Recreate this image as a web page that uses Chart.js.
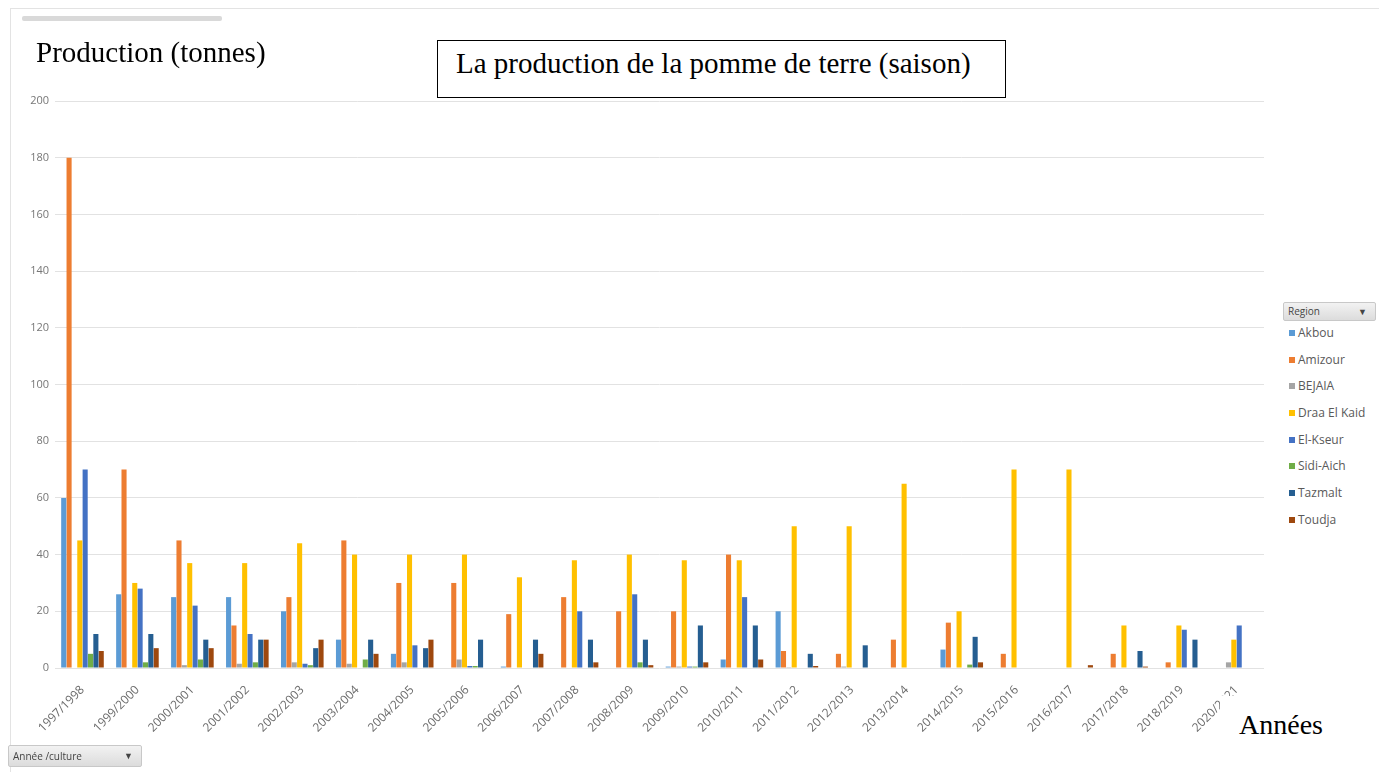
<!DOCTYPE html>
<html lang="fr">
<head>
    <meta charset="UTF-8">
    <title>La production de la pomme de terre (saison)</title>
    <script src="https://cdn.jsdelivr.net/npm/chart.js"></script>
    <style>
        body {
            margin: 0;
            width: 1379px;
            height: 772px;
            background: #fff;
            position: relative;
            overflow: hidden;
            font-family: "Open Sans", Arial, sans-serif;
        }
        .frame {
            position: absolute;
            left: 10px;
            top: 8px;
            width: 1375px;
            height: 770px;
            border: 1px solid #e3e3e3;
        }
        .topbar {
            position: absolute;
            left: 22px;
            top: 16px;
            width: 200px;
            height: 5px;
            background: #d9d9d9;
            border-radius: 2px;
        }
        #chartWrap {
            position: absolute;
            left: 0;
            top: 0;
            width: 1280px;
            height: 772px;
        }
        .serif {
            position: absolute;
            font-family: "Liberation Serif", "Times New Roman", serif;
            color: #000;
            white-space: nowrap;
        }
        #yTitle {
            left: 36px;
            top: 36px;
            font-size: 29px;
        }
        #title {
            left: 437px;
            top: 40px;
            width: 569px;
            height: 58px;
            border: 1px solid #000;
            background: #fff;
            font-size: 29px;
            line-height: 44px;
            padding-left: 18px;
            box-sizing: border-box;
        }
        #xTitle {
            left: 1220px;
            top: 696px;
            padding: 14px 14px 14px 19px;
            background: #fff;
            font-size: 28px;
            line-height: 30px;
        }
        .pivotBtn {
            position: absolute;
            background: linear-gradient(#f2f2f2, #dcdcdc);
            border: 1px solid #c8c8c8;
            border-radius: 2px;
            font-size: 10px;
            color: #444;
            box-sizing: border-box;
            padding-left: 4px;
        }
        .pivotBtn span {
            position: absolute;
            right: 8px;
            font-size: 9px;
        }
        #regionBtn {
            left: 1283px;
            top: 302px;
            width: 93px;
            height: 19px;
            line-height: 17px;
        }
        #anneeBtn {
            left: 8px;
            top: 745px;
            width: 134px;
            height: 22px;
            line-height: 20px;
        }
        #legend {
            position: absolute;
            left: 1289px;
            top: 324px;
        }
        .legItem {
            height: 26.7px;
            line-height: 17px;
            font-size: 12px;
            color: #595959;
            white-space: nowrap;
        }
        .legItem i {
            display: inline-block;
            width: 6px;
            height: 6px;
            margin-right: 3px;
            vertical-align: 1px;
        }
    </style>
</head>
<body>
    <div class="frame"></div>
    <div class="topbar"></div>

    <div id="chartWrap"><canvas id="chart"></canvas></div>

    <div class="serif" id="yTitle">Production (tonnes)</div>
    <div class="serif" id="title">La production de la pomme de terre (saison)</div>
    <div class="serif" id="xTitle">Années</div>

    <div class="pivotBtn" id="regionBtn">Region<span>&#9660;</span></div>
    <div id="legend"></div>
    <div class="pivotBtn" id="anneeBtn">Année /culture<span>&#9660;</span></div>

    <script>
        // Categories (seasons)
        const seasons = ['1997/1998', '1999/2000', '2000/2001', '2001/2002', '2002/2003', '2003/2004',
            '2004/2005', '2005/2006', '2006/2007', '2007/2008', '2008/2009', '2009/2010',
            '2010/2011', '2011/2012', '2012/2013', '2013/2014', '2014/2015', '2015/2016',
            '2016/2017', '2017/2018', '2018/2019', '2020/2021'];

        // Production per region (tonnes)
        const akbou     = [60, 26, 25, 25, 20, 10, 5, 0, 0.5, 0, 0, 0.5, 3, 20, 0, 0, 6.5, 0, 0, 0, 0, 0];
        const amizour   = [180, 70, 45, 15, 25, 45, 30, 30, 19, 25, 20, 20, 40, 6, 5, 10, 16, 5, 0, 5, 2, 0];
        const bejaia    = [0, 0, 1, 1.5, 2, 1.5, 2, 3, 0, 0, 0, 0.5, 0, 0.3, 0.5, 0, 0, 0, 0, 0, 0, 2];
        const draaElKaid = [45, 30, 37, 37, 44, 40, 40, 40, 32, 38, 40, 38, 38, 50, 50, 65, 20, 70, 70, 15, 15, 10];
        const elKseur   = [70, 28, 22, 12, 1.5, 0, 8, 0.7, 0, 20, 26, 0.5, 25, 0, 0, 0, 0, 0, 0, 0, 13.5, 15];
        const sidiAich  = [5, 2, 3, 2, 1, 3, 0, 0.7, 0, 0, 2, 0.5, 0, 0, 0, 0, 1.2, 0, 0, 0, 0, 0];
        const tazmalt   = [12, 12, 10, 10, 7, 10, 7, 10, 10, 10, 10, 15, 15, 5, 8, 0, 11, 0, 0, 6, 10, 0];
        const toudja    = [6, 7, 7, 10, 10, 5, 10, 0, 5, 2, 1, 2, 3, 0.7, 0, 0, 2, 0, 1, 0.5, 0, 0];

        // Y axis ticks
        const yTicks = [0, 20, 40, 60, 80, 100, 120, 140, 160, 180, 200];

        const regions = ['Akbou', 'Amizour', 'BEJAIA', 'Draa El Kaid', 'El-Kseur', 'Sidi-Aich', 'Tazmalt', 'Toudja'];
        const regionValues = [akbou, amizour, bejaia, draaElKaid, elKseur, sidiAich, tazmalt, toudja];
        const regionColors = ['#5B9BD5', '#ED7D31', '#A5A5A5', '#FFC000', '#4472C4', '#70AD47', '#255E91', '#9E480E'];

        const datasets = regions.map((name, i) => ({
            label: name,
            data: regionValues[i],
            backgroundColor: regionColors[i],
            borderWidth: 0,
            categoryPercentage: 0.78,
            barPercentage: 0.95
        }));

        const ctx = document.getElementById('chart').getContext('2d');
        const chart = new Chart(ctx, {
            type: 'bar',
            data: { labels: seasons, datasets: datasets },
            options: {
                responsive: true,
                maintainAspectRatio: false,
                animation: false,
                layout: { padding: { top: 101, right: 16, left: 0, bottom: 0 } },
                plugins: {
                    legend: { display: false },
                    tooltip: { enabled: false }
                },
                scales: {
                    x: {
                        grid: { display: false },
                        border: { display: false },
                        ticks: {
                            color: '#6b6b6b',
                            font: { family: '"Open Sans", Arial, sans-serif', size: 12 },
                            minRotation: 45,
                            maxRotation: 45,
                            autoSkip: false,
                            padding: 7
                        },
                        afterFit: (scale) => { scale.height = 104; }
                    },
                    y: {
                        min: 0,
                        max: 200,
                        afterBuildTicks: (scale) => { scale.ticks = yTicks.map(v => ({ value: v })); },
                        grid: { color: '#e2e2e2', lineWidth: 1, drawTicks: false },
                        border: { display: false },
                        ticks: {
                            color: '#777',
                            font: { family: '"Open Sans", Arial, sans-serif', size: 11 },
                            padding: 6
                        },
                        afterFit: (scale) => { scale.width = 55; }
                    }
                }
            }
        });

        // Legend built from the chart's datasets
        const legend = document.getElementById('legend');
        chart.data.datasets.forEach(ds => {
            const item = document.createElement('div');
            item.className = 'legItem';
            item.innerHTML = '<i style="background:' + ds.backgroundColor + '"></i>' + ds.label;
            legend.appendChild(item);
        });
    </script>
</body>
</html>
